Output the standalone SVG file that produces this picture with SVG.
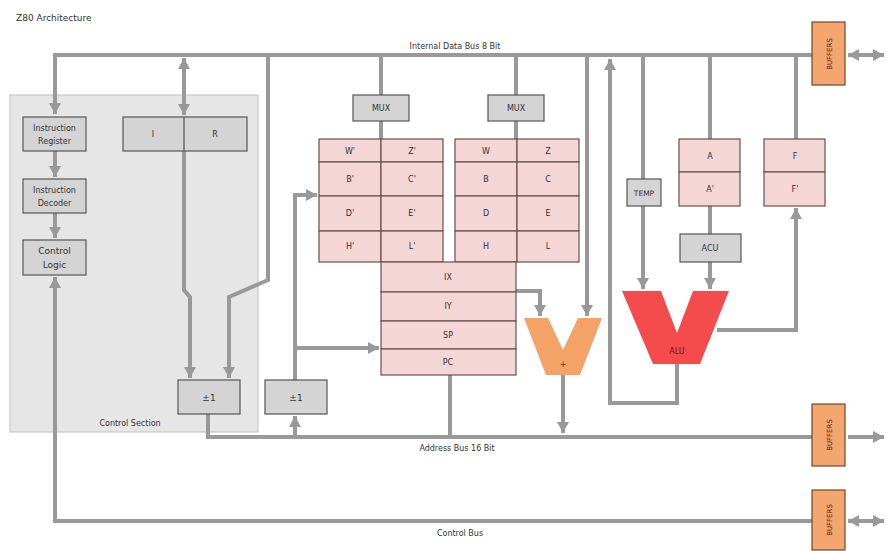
<svg xmlns="http://www.w3.org/2000/svg" width="887" height="551" viewBox="0 0 887 551">
<defs>
<marker id="ah" markerUnits="userSpaceOnUse" markerWidth="12" markerHeight="12" refX="11" refY="6" orient="auto-start-reverse">
<path d="M0,0 L11,6 L0,12 z" fill="#999"/>
</marker>
<style>
.bus{stroke:#999;stroke-width:4;fill:none}
.gbox{fill:#d4d4d4;stroke:#555;stroke-width:1.2}
.reg{fill:#f4d6d6;stroke:#6a5050;stroke-width:1.2}
.buf{fill:#f5a66e;stroke:#6a4a30;stroke-width:1.2}
text{font-family:"DejaVu Sans","Liberation Sans",sans-serif;font-size:8px;fill:#333;text-anchor:middle}
.lbl{font-size:9px}
</style>
</defs>
<rect width="887" height="551" fill="#fff"/>
<text x="16" y="21" style="text-anchor:start;font-size:9px">Z80 Architecture</text>

<g id="control-section">
<rect x="10" y="95" width="248" height="337" fill="#e6e6e6" stroke="#c8c8c8" stroke-width="1.2"/>
<text x="130" y="426">Control Section</text>
</g>

<g id="connectors">
<!-- internal data bus -->
<path class="bus" d="M812,55 H55 V114" marker-end="url(#ah)"/>
<text x="455" y="49">Internal Data Bus 8 Bit</text>
<path class="bus" d="M848,55 H884" marker-start="url(#ah)" marker-end="url(#ah)"/>
<!-- IR -> ID -> CL -->
<path class="bus" d="M55,151 V177" marker-end="url(#ah)"/>
<path class="bus" d="M55,213 V238" marker-end="url(#ah)"/>
<!-- I R line -->
<path class="bus" d="M184,58 V115" marker-start="url(#ah)" marker-end="url(#ah)"/>
<path class="bus" d="M184,151 V290 L190,297 V378" marker-end="url(#ah)"/>
<path class="bus" d="M268,55 V280 L229,297 V378" marker-end="url(#ah)"/>
<!-- ±1 to address bus -->
<path class="bus" d="M208,414 V437 H812"/>
<text x="457" y="451">Address Bus 16 Bit</text>
<path class="bus" d="M848,437 H884" marker-end="url(#ah)"/>
<path class="bus" d="M295,437 V416" marker-end="url(#ah)"/>
<path class="bus" d="M295,380 V195 H317" marker-end="url(#ah)"/>
<path class="bus" d="M295,348 H379" marker-end="url(#ah)"/>
<!-- control bus -->
<path class="bus" d="M812,521 H55 V277" marker-end="url(#ah)"/>
<text x="460" y="536">Control Bus</text>
<path class="bus" d="M848,521 H884" marker-start="url(#ah)" marker-end="url(#ah)"/>
<!-- MUX lines -->
<path class="bus" d="M381,55 V95 M381,121 V139 M516,55 V95 M516,121 V139"/>
<!-- PC to address bus -->
<path class="bus" d="M450,375 V437"/>
<!-- IX/IY to adder -->
<path class="bus" d="M516,291 H540 V316" marker-end="url(#ah)"/>
<path class="bus" d="M587,55 V316" marker-end="url(#ah)"/>
<path class="bus" d="M563,375 V433" marker-end="url(#ah)"/>
<!-- ALU loop -->
<path class="bus" d="M677,364 V403 H610 V59" marker-end="url(#ah)"/>
<path class="bus" d="M643,55 V179 M643,206 V289" marker-end="url(#ah)"/>
<path class="bus" d="M710,55 V139 M710,206 V234 M710,262 V289" marker-end="url(#ah)"/>
<path class="bus" d="M796,55 V139"/>
<path class="bus" d="M717,330 H796 V208" marker-end="url(#ah)"/>
</g>

<g id="instruction-register"><rect class="gbox" x="23" y="117" width="63" height="34"/><text x="54.5" y="131">Instruction</text><text x="54.5" y="144">Register</text></g>
<g id="instruction-decoder"><rect class="gbox" x="23" y="179" width="63" height="34"/><text x="54.5" y="193">Instruction</text><text x="54.5" y="206">Decoder</text></g>
<g id="control-logic"><rect class="gbox" x="23" y="240" width="63" height="35"/><text class="lbl" x="54.5" y="254">Control</text><text class="lbl" x="54.5" y="268">Logic</text></g>

<g id="ir-regs"><rect class="gbox" x="123" y="117" width="124" height="34"/><line x1="184" y1="117" x2="184" y2="151" stroke="#555" stroke-width="1.2"/><text x="153" y="137">I</text><text x="215" y="137">R</text></g>

<g id="inc1"><rect class="gbox" x="178" y="380" width="62" height="34"/><text class="lbl" x="209" y="401">±1</text></g>
<g id="inc2"><rect class="gbox" x="265" y="380" width="62" height="34"/><text class="lbl" x="296" y="401">±1</text></g>

<g id="mux1"><rect class="gbox" x="353" y="95" width="56" height="26"/><text x="381" y="111">MUX</text></g>
<g id="mux2"><rect class="gbox" x="488" y="95" width="56" height="26"/><text x="516" y="111">MUX</text></g>

<g id="alt-regs">
<rect class="reg" x="319" y="139" width="62" height="23"/><rect class="reg" x="381" y="139" width="62" height="23"/>
<rect class="reg" x="319" y="162" width="62" height="34"/><rect class="reg" x="381" y="162" width="62" height="34"/>
<rect class="reg" x="319" y="196" width="62" height="35"/><rect class="reg" x="381" y="196" width="62" height="35"/>
<rect class="reg" x="319" y="231" width="62" height="31"/><rect class="reg" x="381" y="231" width="62" height="31"/>
<text x="350" y="154">W'</text><text x="412" y="154">Z'</text>
<text x="350" y="182">B'</text><text x="412" y="182">C'</text>
<text x="350" y="216">D'</text><text x="412" y="216">E'</text>
<text x="350" y="249">H'</text><text x="412" y="249">L'</text>
</g>
<g id="main-regs">
<rect class="reg" x="455" y="139" width="62" height="23"/><rect class="reg" x="517" y="139" width="62" height="23"/>
<rect class="reg" x="455" y="162" width="62" height="34"/><rect class="reg" x="517" y="162" width="62" height="34"/>
<rect class="reg" x="455" y="196" width="62" height="35"/><rect class="reg" x="517" y="196" width="62" height="35"/>
<rect class="reg" x="455" y="231" width="62" height="31"/><rect class="reg" x="517" y="231" width="62" height="31"/>
<text x="486" y="154">W</text><text x="548" y="154">Z</text>
<text x="486" y="182">B</text><text x="548" y="182">C</text>
<text x="486" y="216">D</text><text x="548" y="216">E</text>
<text x="486" y="249">H</text><text x="548" y="249">L</text>
</g>
<g id="index-regs">
<rect class="reg" x="381" y="262" width="135" height="30"/>
<rect class="reg" x="381" y="292" width="135" height="29"/>
<rect class="reg" x="381" y="321" width="135" height="28"/>
<rect class="reg" x="381" y="349" width="135" height="26"/>
<text x="448" y="280">IX</text><text x="448" y="309">IY</text><text x="448" y="338">SP</text><text x="448" y="365">PC</text>
</g>

<g id="adder"><path d="M524,318 H548 L563,350 L578,318 H602 L580,375 H546 Z" fill="#f5a266"/><text x="563" y="367" style="fill:#7a2a10">+</text></g>

<g id="temp"><rect class="gbox" x="627" y="179" width="34" height="27"/><text x="644" y="196" style="font-size:7.5px">TEMP</text></g>
<g id="acc"><rect class="reg" x="679" y="139" width="61" height="33"/><rect class="reg" x="679" y="172" width="61" height="34"/><text x="710" y="159">A</text><text x="710" y="192">A'</text></g>
<g id="flags"><rect class="reg" x="764" y="139" width="61" height="33"/><rect class="reg" x="764" y="172" width="61" height="34"/><text x="795" y="159">F</text><text x="795" y="192">F'</text></g>
<g id="acu"><rect class="gbox" x="680" y="234" width="61" height="28"/><text x="710" y="251">ACU</text></g>
<g id="alu"><path d="M622,291 H661 L677,333 L693,291 H729 L700,364 H653 Z" fill="#f44c4c"/><text x="677" y="354" style="fill:#7a1010">ALU</text></g>

<g id="buffer-data"><rect class="buf" x="812" y="22" width="33" height="63"/><text transform="translate(832,54) rotate(-90)" style="font-size:7px;fill:#3a2a1a">BUFFERS</text></g>
<g id="buffer-address"><rect class="buf" x="812" y="404" width="33" height="62"/><text transform="translate(832,435) rotate(-90)" style="font-size:7px;fill:#3a2a1a">BUFFERS</text></g>
<g id="buffer-control"><rect class="buf" x="812" y="490" width="33" height="60"/><text transform="translate(832,520) rotate(-90)" style="font-size:7px;fill:#3a2a1a">BUFFERS</text></g>
</svg>
